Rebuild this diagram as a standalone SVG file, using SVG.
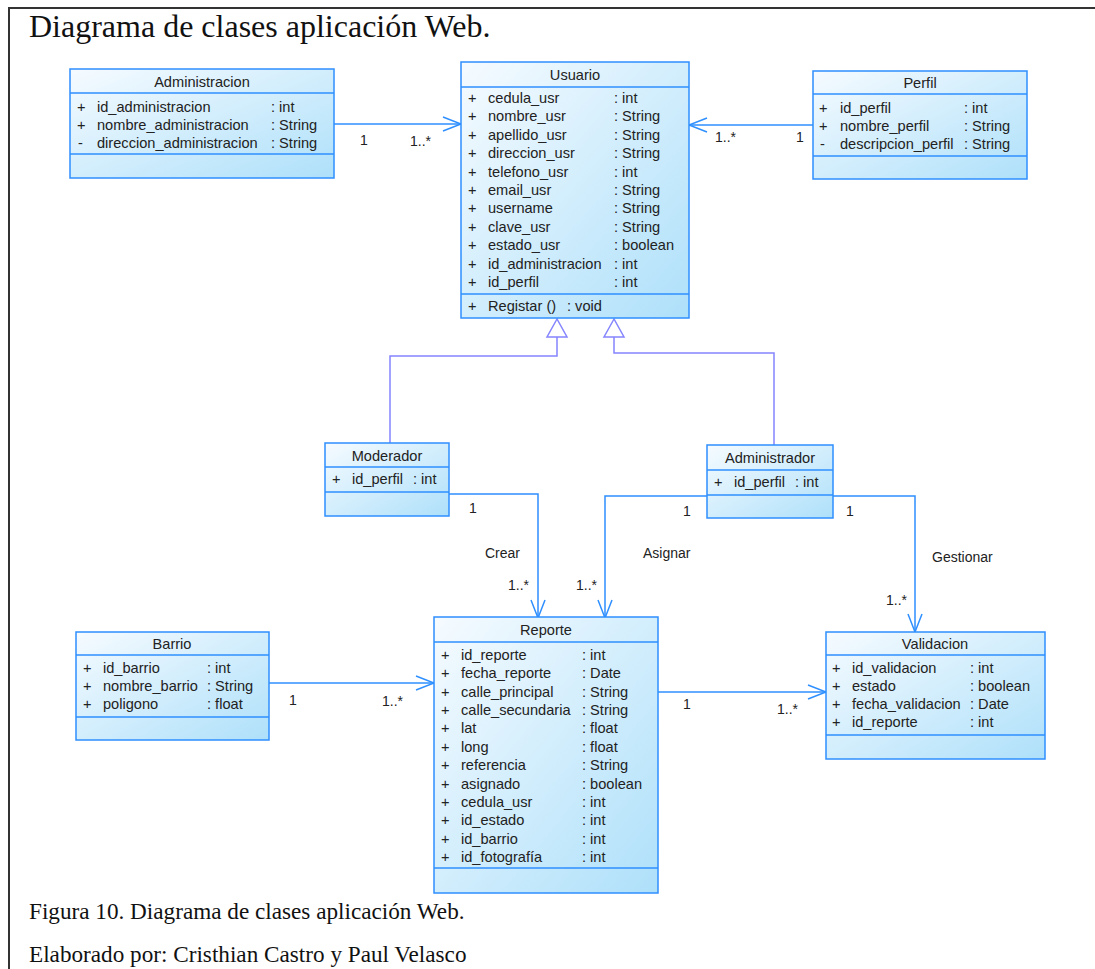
<svg xmlns="http://www.w3.org/2000/svg" width="1095" height="969" viewBox="0 0 1095 969">
  <style>
    .box { fill: url(#cls); stroke: #2e8fff; stroke-width: 1.5; }
    .sep { stroke: #2e8fff; stroke-width: 1.5; }
    .t { font-family: "Liberation Sans", Arial, sans-serif; font-size: 14.6px; fill: #222; }
    .h { text-anchor: middle; }
    .lbl { font-family: "Liberation Sans", Arial, sans-serif; font-size: 14px; fill: #222; }
    .assoc { fill: none; stroke: #2e8fff; stroke-width: 1.5; }
    .gen { fill: none; stroke: #8585ff; stroke-width: 1.5; }
    .tri { fill: #ffffff; stroke: #8585ff; stroke-width: 1.5; }
    .serif { font-family: "Liberation Serif", "Times New Roman", serif; fill: #111; }
  </style>
  <defs>
    <linearGradient id="cls" x1="0" y1="0" x2="1" y2="1">
      <stop offset="0" stop-color="#f6fbff"/>
      <stop offset="1" stop-color="#aee0fa"/>
    </linearGradient>
    <marker id="open" viewBox="-20 -10 22 20" refX="0" refY="0" markerWidth="22" markerHeight="20" markerUnits="userSpaceOnUse" orient="auto">
      <path d="M-18,-7 L0,0 L-18,7" fill="none" stroke="#2e8fff" stroke-width="1.5"/>
    </marker>
  </defs>

  <rect width="1095" height="969" fill="#ffffff"/>

  <!-- figure frame -->
  <path d="M1095,8 H9 V969" fill="none" stroke="#333" stroke-width="2"/>

  <text class="serif" x="29" y="37" font-size="32px">Diagrama de clases aplicación Web.</text>

  <!-- connectors -->
  <g id="connectors">
    <!-- associations -->
    <path class="assoc" d="M334,124 H461" marker-end="url(#open)"/>
    <path class="assoc" d="M813,125 H689" marker-end="url(#open)"/>
    <path class="assoc" d="M449,494 H538 V618" marker-end="url(#open)"/>
    <path class="assoc" d="M707,496 H605 V618" marker-end="url(#open)"/>
    <path class="assoc" d="M833,496 H915 V632" marker-end="url(#open)"/>
    <path class="assoc" d="M269,683 H434" marker-end="url(#open)"/>
    <path class="assoc" d="M658,692 H826" marker-end="url(#open)"/>
    <!-- generalizations -->
    <path class="gen" d="M390,443 V356 H557 V337"/>
    <path class="gen" d="M774,445 V353 H614 V337"/>
    <polygon class="tri" points="557,319 547,337 567,337"/>
    <polygon class="tri" points="614,319 604,337 624,337"/>

    <!-- multiplicities and role names -->
    <text class="lbl" x="360" y="145">1</text>
    <text class="lbl" x="410" y="146">1..*</text>
    <text class="lbl" x="715" y="142">1..*</text>
    <text class="lbl" x="796" y="142">1</text>
    <text class="lbl" x="469" y="513">1</text>
    <text class="lbl" x="485" y="558">Crear</text>
    <text class="lbl" x="508" y="590">1..*</text>
    <text class="lbl" x="576" y="590">1..*</text>
    <text class="lbl" x="643" y="558">Asignar</text>
    <text class="lbl" x="683" y="516">1</text>
    <text class="lbl" x="846" y="516">1</text>
    <text class="lbl" x="932" y="562">Gestionar</text>
    <text class="lbl" x="886" y="605">1..*</text>
    <text class="lbl" x="289" y="705">1</text>
    <text class="lbl" x="382" y="706">1..*</text>
    <text class="lbl" x="683" y="709">1</text>
    <text class="lbl" x="777" y="714">1..*</text>
  </g>

  <!-- Administracion -->
  <g id="administracion">
    <rect class="box" x="70" y="69" width="264" height="109"/>
    <line class="sep" x1="70" y1="93" x2="334" y2="93"/>
    <line class="sep" x1="70" y1="154" x2="334" y2="154"/>
    <text class="t h" x="202" y="87">Administracion</text>
    <text class="t" x="77" y="112">+</text><text class="t" x="97" y="112">id_administracion</text><text class="t" x="271" y="112">: int</text>
    <text class="t" x="77" y="130">+</text><text class="t" x="97" y="130">nombre_administracion</text><text class="t" x="271" y="130">: String</text>
    <text class="t" x="78" y="148">-</text><text class="t" x="97" y="148">direccion_administracion</text><text class="t" x="271" y="148">: String</text>
  </g>

  <!-- Usuario -->
  <g id="usuario">
    <rect class="box" x="461" y="62" width="228" height="256"/>
    <line class="sep" x1="461" y1="87" x2="689" y2="87"/>
    <line class="sep" x1="461" y1="294" x2="689" y2="294"/>
    <text class="t h" x="575" y="80">Usuario</text>
    <text class="t" x="468" y="103">+</text><text class="t" x="488" y="103">cedula_usr</text><text class="t" x="614" y="103">: int</text>
    <text class="t" x="468" y="121.4">+</text><text class="t" x="488" y="121.4">nombre_usr</text><text class="t" x="614" y="121.4">: String</text>
    <text class="t" x="468" y="139.8">+</text><text class="t" x="488" y="139.8">apellido_usr</text><text class="t" x="614" y="139.8">: String</text>
    <text class="t" x="468" y="158.2">+</text><text class="t" x="488" y="158.2">direccion_usr</text><text class="t" x="614" y="158.2">: String</text>
    <text class="t" x="468" y="176.6">+</text><text class="t" x="488" y="176.6">telefono_usr</text><text class="t" x="614" y="176.6">: int</text>
    <text class="t" x="468" y="195">+</text><text class="t" x="488" y="195">email_usr</text><text class="t" x="614" y="195">: String</text>
    <text class="t" x="468" y="213.4">+</text><text class="t" x="488" y="213.4">username</text><text class="t" x="614" y="213.4">: String</text>
    <text class="t" x="468" y="231.8">+</text><text class="t" x="488" y="231.8">clave_usr</text><text class="t" x="614" y="231.8">: String</text>
    <text class="t" x="468" y="250.2">+</text><text class="t" x="488" y="250.2">estado_usr</text><text class="t" x="614" y="250.2">: boolean</text>
    <text class="t" x="468" y="268.6">+</text><text class="t" x="488" y="268.6">id_administracion</text><text class="t" x="614" y="268.6">: int</text>
    <text class="t" x="468" y="287">+</text><text class="t" x="488" y="287">id_perfil</text><text class="t" x="614" y="287">: int</text>
    <text class="t" x="468" y="311">+</text><text class="t" x="488" y="311">Registar ()</text><text class="t" x="567" y="311">: void</text>
  </g>

  <!-- Perfil -->
  <g id="perfil">
    <rect class="box" x="813" y="71" width="214" height="108"/>
    <line class="sep" x1="813" y1="94" x2="1027" y2="94"/>
    <line class="sep" x1="813" y1="156" x2="1027" y2="156"/>
    <text class="t h" x="920" y="88">Perfil</text>
    <text class="t" x="819" y="113">+</text><text class="t" x="840" y="113">id_perfil</text><text class="t" x="964" y="113">: int</text>
    <text class="t" x="819" y="131">+</text><text class="t" x="840" y="131">nombre_perfil</text><text class="t" x="964" y="131">: String</text>
    <text class="t" x="820" y="149">-</text><text class="t" x="840" y="149">descripcion_perfil</text><text class="t" x="964" y="149">: String</text>
  </g>

  <!-- Moderador -->
  <g id="moderador">
    <rect class="box" x="325" y="443" width="124" height="73"/>
    <line class="sep" x1="325" y1="467" x2="449" y2="467"/>
    <line class="sep" x1="325" y1="492" x2="449" y2="492"/>
    <text class="t h" x="387" y="461">Moderador</text>
    <text class="t" x="332" y="484">+</text><text class="t" x="352" y="484">id_perfil</text><text class="t" x="413" y="484">: int</text>
  </g>

  <!-- Administrador -->
  <g id="administrador">
    <rect class="box" x="707" y="445" width="126" height="73"/>
    <line class="sep" x1="707" y1="470" x2="833" y2="470"/>
    <line class="sep" x1="707" y1="495" x2="833" y2="495"/>
    <text class="t h" x="770" y="463">Administrador</text>
    <text class="t" x="714" y="487">+</text><text class="t" x="734" y="487">id_perfil</text><text class="t" x="795" y="487">: int</text>
  </g>

  <!-- Barrio -->
  <g id="barrio">
    <rect class="box" x="76" y="632" width="193" height="108"/>
    <line class="sep" x1="76" y1="655" x2="269" y2="655"/>
    <line class="sep" x1="76" y1="717" x2="269" y2="717"/>
    <text class="t h" x="172" y="649">Barrio</text>
    <text class="t" x="83" y="673">+</text><text class="t" x="103" y="673">id_barrio</text><text class="t" x="207" y="673">: int</text>
    <text class="t" x="83" y="691">+</text><text class="t" x="103" y="691">nombre_barrio</text><text class="t" x="207" y="691">: String</text>
    <text class="t" x="83" y="709">+</text><text class="t" x="103" y="709">poligono</text><text class="t" x="207" y="709">: float</text>
  </g>

  <!-- Reporte -->
  <g id="reporte">
    <rect class="box" x="434" y="617" width="224" height="276"/>
    <line class="sep" x1="434" y1="642" x2="658" y2="642"/>
    <line class="sep" x1="434" y1="868" x2="658" y2="868"/>
    <text class="t h" x="546" y="635">Reporte</text>
    <text class="t" x="441" y="660">+</text><text class="t" x="461" y="660">id_reporte</text><text class="t" x="582" y="660">: int</text>
    <text class="t" x="441" y="678.4">+</text><text class="t" x="461" y="678.4">fecha_reporte</text><text class="t" x="582" y="678.4">: Date</text>
    <text class="t" x="441" y="696.7">+</text><text class="t" x="461" y="696.7">calle_principal</text><text class="t" x="582" y="696.7">: String</text>
    <text class="t" x="441" y="715.1">+</text><text class="t" x="461" y="715.1">calle_secundaria</text><text class="t" x="582" y="715.1">: String</text>
    <text class="t" x="441" y="733.4">+</text><text class="t" x="461" y="733.4">lat</text><text class="t" x="582" y="733.4">: float</text>
    <text class="t" x="441" y="751.8">+</text><text class="t" x="461" y="751.8">long</text><text class="t" x="582" y="751.8">: float</text>
    <text class="t" x="441" y="770.2">+</text><text class="t" x="461" y="770.2">referencia</text><text class="t" x="582" y="770.2">: String</text>
    <text class="t" x="441" y="788.5">+</text><text class="t" x="461" y="788.5">asignado</text><text class="t" x="582" y="788.5">: boolean</text>
    <text class="t" x="441" y="806.9">+</text><text class="t" x="461" y="806.9">cedula_usr</text><text class="t" x="582" y="806.9">: int</text>
    <text class="t" x="441" y="825.2">+</text><text class="t" x="461" y="825.2">id_estado</text><text class="t" x="582" y="825.2">: int</text>
    <text class="t" x="441" y="843.6">+</text><text class="t" x="461" y="843.6">id_barrio</text><text class="t" x="582" y="843.6">: int</text>
    <text class="t" x="441" y="862">+</text><text class="t" x="461" y="862">id_fotografía</text><text class="t" x="582" y="862">: int</text>
  </g>

  <!-- Validacion -->
  <g id="validacion">
    <rect class="box" x="826" y="632" width="219" height="127"/>
    <line class="sep" x1="826" y1="655" x2="1045" y2="655"/>
    <line class="sep" x1="826" y1="735" x2="1045" y2="735"/>
    <text class="t h" x="935" y="649">Validacion</text>
    <text class="t" x="832" y="673">+</text><text class="t" x="852" y="673">id_validacion</text><text class="t" x="970" y="673">: int</text>
    <text class="t" x="832" y="691">+</text><text class="t" x="852" y="691">estado</text><text class="t" x="970" y="691">: boolean</text>
    <text class="t" x="832" y="709">+</text><text class="t" x="852" y="709">fecha_validacion</text><text class="t" x="970" y="709">: Date</text>
    <text class="t" x="832" y="727">+</text><text class="t" x="852" y="727">id_reporte</text><text class="t" x="970" y="727">: int</text>
  </g>

  <!-- caption -->
  <text class="serif" x="29" y="919" font-size="23.2px">Figura 10. Diagrama de clases aplicación Web.</text>
  <text class="serif" x="29" y="962" font-size="23.2px">Elaborado por: Cristhian Castro y Paul Velasco</text>
</svg>
